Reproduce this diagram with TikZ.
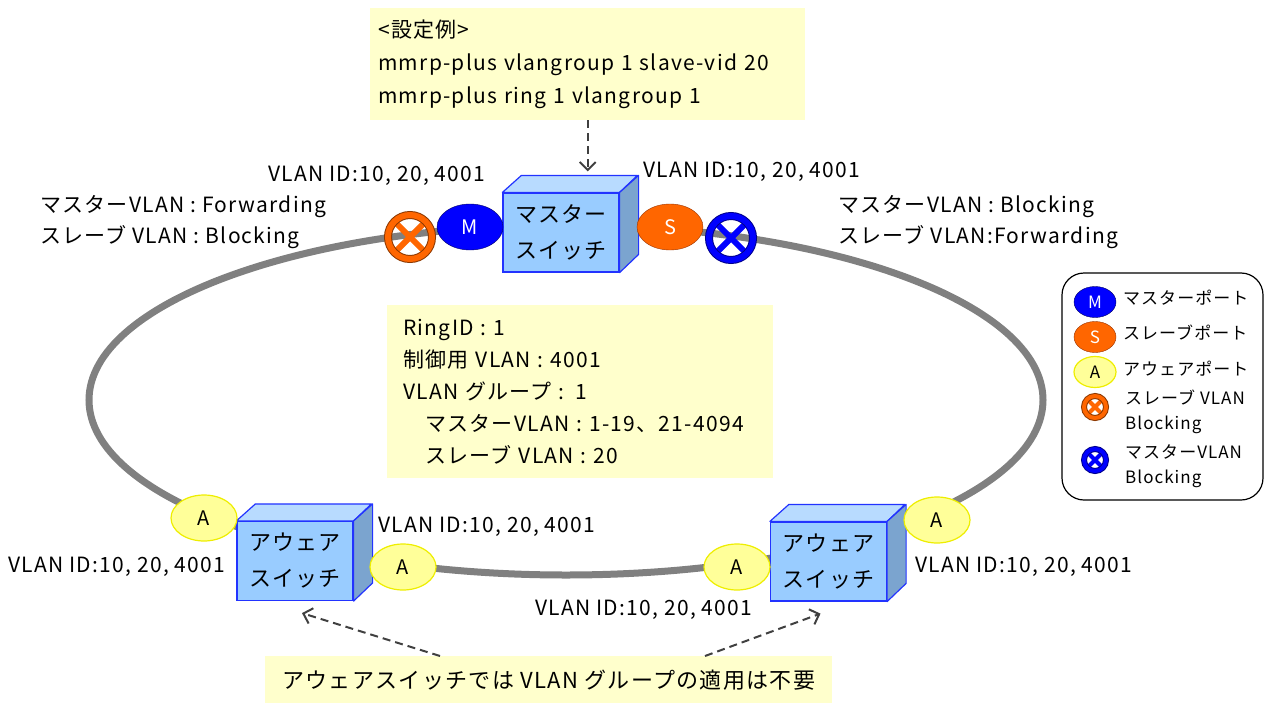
\documentclass[tikz,border=0pt]{standalone}
\usepackage{fontspec}
\setmainfont{Noto Sans CJK JP}[LetterSpace=6]
\usetikzlibrary{shapes.geometric,arrows.meta,calc}
\definecolor{noteyellow}{HTML}{FFFFCC}
\definecolor{cubefront}{HTML}{99CCFF}
\definecolor{cubetop}{HTML}{B8DBFF}
\definecolor{cubeside}{HTML}{7BA4CF}
\definecolor{cubeedge}{HTML}{2233FF}
\definecolor{ringgray}{HTML}{808080}
\definecolor{mblue}{HTML}{0000FF}
\definecolor{mdark}{HTML}{000066}
\definecolor{sorange}{HTML}{FF6600}
\definecolor{sdark}{HTML}{993300}
\definecolor{afill}{HTML}{FFFF99}
\definecolor{aedge}{HTML}{EEEE00}
\begin{document}
\begin{tikzpicture}[x=1pt,y=-1pt,
    txt/.style={font=\fontsize{21}{24}\selectfont, inner sep=0pt, anchor=west},
    small/.style={font=\fontsize{17}{25}\selectfont, inner sep=0pt, anchor=west, align=left},
    note/.style={fill=noteyellow, anchor=north west, align=left, inner ysep=8pt, font=\fontsize{21}{33}\selectfont},
    switchbox/.style={draw=cubeedge, line width=1.2pt, fill=cubefront, minimum width=116pt, minimum height=79pt,
        inner sep=0pt, align=center, font=\fontsize{22}{36}\selectfont},
    topface/.style={draw=cubeedge, line width=1.2pt, fill=cubetop, line join=round},
    sideface/.style={draw=cubeedge, line width=1.2pt, fill=cubeside, line join=round},
    port/.style={ellipse, minimum width=66pt, minimum height=46pt, inner sep=0pt, font=\fontsize{20}{24}\selectfont},
    mport/.style={port, fill=mblue, draw=mdark, text=white},
    sport/.style={port, fill=sorange, draw=sdark, text=white},
    aport/.style={port, fill=afill, draw=aedge, line width=1.2pt},
    blockmark/.style 2 args={circle, minimum size=44pt, inner sep=0pt, draw=#1!55!black, line width=1pt,
        double=#1, double distance=#2,
        path picture={\draw[#1, line width=#2]
            (path picture bounding box.north west) -- (path picture bounding box.south east)
            (path picture bounding box.north east) -- (path picture bounding box.south west);}},
    ringline/.style={ringgray, line width=7pt},
    dasharrow/.style={draw=black!75, line width=2pt, dash pattern=on 8pt off 5pt,
        -{Straight Barb[length=8pt,width=16pt]}}]
    \useasboundingbox (0,0) rectangle (1266,704);

    \draw[ringline] (566,400) ellipse [x radius=477pt, y radius=175pt];

    \node[switchbox] (mst) at (561,232.5) {マスター\\スイッチ};
    \node[switchbox] (awl) at (295,561) {アウェア\\スイッチ};
    \node[switchbox] (awr) at (828.5,561.5) {アウェア\\スイッチ};
    \foreach \sw in {mst,awl,awr} {
        \filldraw[topface] (\sw.north west) -- ++(19,-17) -- ++(116,0) -- (\sw.north east) -- cycle;
        \filldraw[sideface] (\sw.north east) -- ++(19,-17) -- ++(0,79) -- (\sw.south east) -- cycle;
    }

    \node[mport] (pm) at (470,227) {M};
    \node[sport] (ps) at (670,227) {S};
    \node[blockmark={sorange}{6pt}] (bs) at (410,237) {};
    \node[blockmark={mblue}{6pt}] (bm) at (731,238) {};
    \node[aport] (alt) at (204,518) {A};
    \node[aport] (alb) at (403,567) {A};
    \node[aport] (arb) at (737,567) {A};
    \node[aport] (art) at (937,520) {A};

    \node[txt] (idmw) at (268,176) {VLAN ID:10, 20, 4001};
    \node[txt] (idme) at (643,172) {VLAN ID:10, 20, 4001};
    \node[txt, align=left, font=\fontsize{21}{31}\selectfont] (stw) at (40,222)
        {マスターVLAN : Forwarding\\スレーブ VLAN : Blocking};
    \node[txt, align=left, font=\fontsize{21}{31}\selectfont] (ste) at (838,222)
        {マスターVLAN : Blocking\\スレーブ VLAN:Forwarding};
    \node[txt] (idlw) at (8,567) {VLAN ID:10, 20, 4001};
    \node[txt] (idle) at (378,527) {VLAN ID:10, 20, 4001};
    \node[txt] (idbt) at (535,610) {VLAN ID:10, 20, 4001};
    \node[txt] (idre) at (915,567) {VLAN ID:10, 20, 4001};

    \node[note, text width=419pt, inner xsep=8pt, minimum height=112pt] (cfg) at (370,8)
        {<設定例>\\mmrp-plus vlangroup 1 slave-vid 20\\mmrp-plus ring 1 vlangroup 1};
    \node[note, text width=354pt, inner xsep=16pt, minimum height=173pt, font=\fontsize{21}{32}\selectfont] (info) at (387,305)
        {RingID : 1\\制御用 VLAN : 4001\\VLAN グループ : 1\\
         \hspace*{22pt}マスターVLAN : 1-19、21-4094\\\hspace*{22pt}スレーブ VLAN : 20};
    \node[note, align=center, minimum width=567pt, minimum height=47pt, inner sep=0pt, font=\fontsize{22}{26}\selectfont] (aw) at (265,656)
        {アウェアスイッチでは VLAN グループの適用は不要};

    \draw[dasharrow] (cfg.south) -- ($(cfg.south |- mst.north)+(0,-21)$);
    \draw[dasharrow] ($(aw.north west)+(175,0)$) -- ($(awl.south)+(7,12)$);
    \draw[dasharrow] ($(aw.north west)+(440,0)$) -- ($(awr.south)+(-8,12)$);

    \node[draw, line width=1.2pt, rounded corners=22pt, minimum width=201pt, minimum height=227pt] (lgd) at (1162.5,386.5) {};
    \node[mport, minimum width=42pt, minimum height=31pt, font=\fontsize{17}{20}\selectfont] (lm) at (1095,302) {M};
    \node[sport, minimum width=42pt, minimum height=31pt, font=\fontsize{17}{20}\selectfont] (ls) at (1095,337) {S};
    \node[aport, minimum width=42pt, minimum height=31pt, font=\fontsize{17}{20}\selectfont] (la) at (1095,372) {A};
    \node[blockmark={sorange}{4pt}, minimum size=22pt] (lbs) at (1095,407) {};
    \node[blockmark={mblue}{4pt}, minimum size=22pt] (lbm) at (1095,460) {};
    \node[small] (tm) at (1123,298) {マスターポート};
    \node[small] (ts) at (1123,333) {スレーブポート};
    \node[small] (ta) at (1123,369) {アウェアポート};
    \node[small] (tbs) at (1125,412) {スレーブ VLAN\\Blocking};
    \node[small] (tbm) at (1125,466) {マスターVLAN\\Blocking};
\end{tikzpicture}
\end{document}
